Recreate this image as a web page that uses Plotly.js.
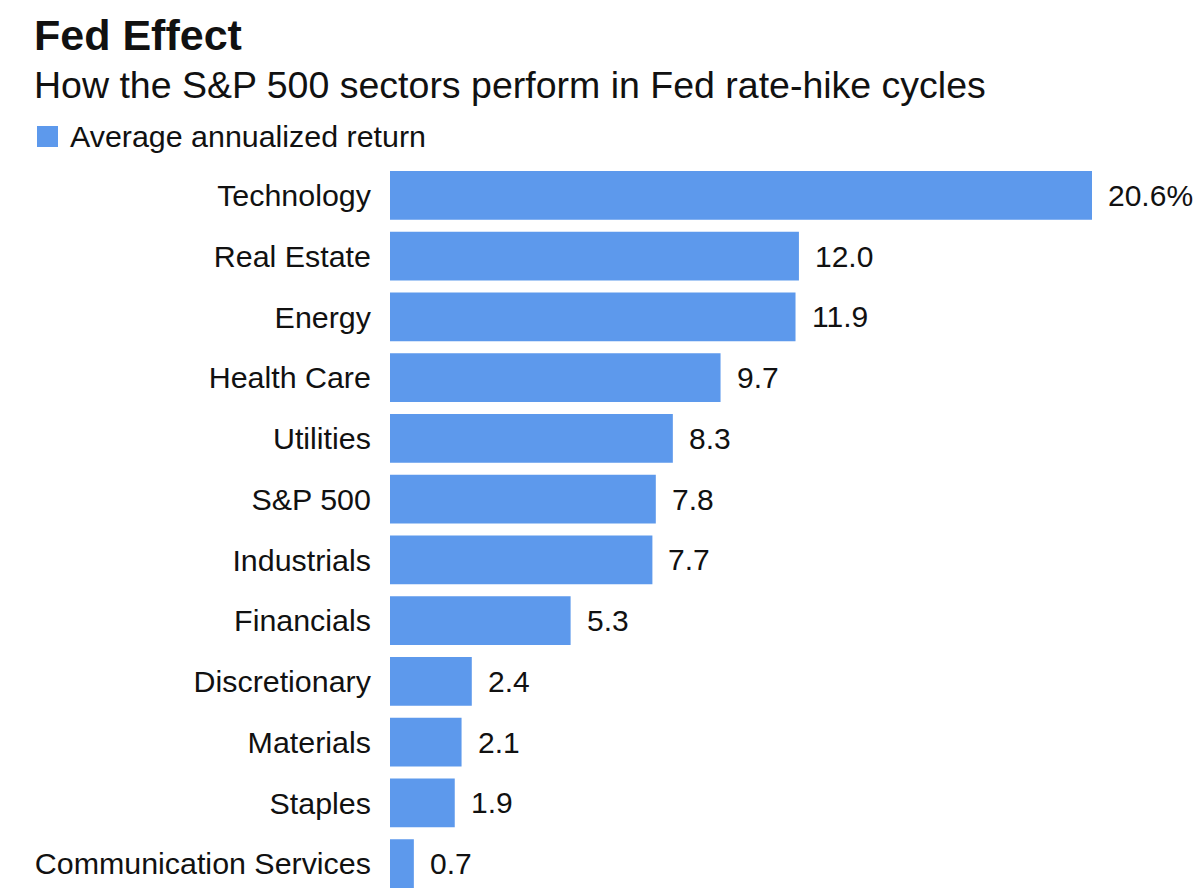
<!DOCTYPE html>
<html>
<head>
<meta charset="utf-8">
<script src="https://cdn.plot.ly/plotly-3.0.1.min.js"></script>
<style>
  html, body { margin: 0; padding: 0; background: #fff; }
  #chart { width: 1200px; height: 894px; }
</style>
</head>
<body>
<div id="chart"></div>
<script>
const categories = ["Technology", "Real Estate", "Energy", "Health Care", "Utilities", "S&P 500",
  "Industrials", "Financials", "Discretionary", "Materials", "Staples", "Communication Services"];
const returns = [20.6, 12.0, 11.9, 9.7, 8.3, 7.8, 7.7, 5.3, 2.4, 2.1, 1.9, 0.7];
const valueLabels = ["20.6%", "12.0", "11.9", "9.7", "8.3", "7.8", "7.7", "5.3", "2.4", "2.1", "1.9", "0.7"];
const seriesName = "Average annualized return";
const titleText = "Fed Effect";
const subtitleText = "How the S&P 500 sectors perform in Fed rate-hike cycles";

const barColor = "#5d99ec";
const textColor = "#111111";
const font = "Liberation Sans, Arial, sans-serif";

const PL = 390, PT = 165, W = 1200, H = 894;
const plotW = W - PL, plotH = H - PT;
const px2paperX = x => (x - PL) / plotW;
const px2paperY = y => (H - y) / plotH;

const trace = {
  type: "bar",
  orientation: "h",
  x: returns,
  y: categories,
  name: seriesName,
  marker: { color: barColor },
  hoverinfo: "y+x",
  showlegend: false
};

const valueAnnotations = returns.map((v, i) => ({
  x: v, y: categories[i], xref: "x", yref: "y",
  text: valueLabels[i], showarrow: false,
  xanchor: "left", yanchor: "middle", xshift: 14,
  font: { family: font, size: 30, color: textColor }
}));

const layout = {
  width: W, height: H,
  margin: { l: PL, r: 0, t: PT, b: 0, pad: 0 },
  paper_bgcolor: "#ffffff",
  plot_bgcolor: "#ffffff",
  bargap: 0.194,
  title: {
    text: "<b>" + titleText + "</b>",
    font: { family: font, size: 43, color: textColor },
    xref: "container", yref: "container",
    x: 34 / W, xanchor: "left",
    y: 1 - 20 / H, yanchor: "top"
  },
  xaxis: {
    range: [0, 20.6 * plotW / 702],
    showgrid: false, zeroline: false, showline: false,
    showticklabels: false, ticks: "", fixedrange: true
  },
  yaxis: {
    type: "category",
    autorange: "reversed",
    showgrid: false, zeroline: false, showline: false,
    ticks: "outside", ticklen: 12, tickcolor: "rgba(0,0,0,0)",
    tickfont: { family: font, size: 30.4, color: textColor },
    fixedrange: true
  },
  shapes: [{
    type: "rect", xref: "paper", yref: "paper",
    x0: px2paperX(37), x1: px2paperX(58),
    y0: px2paperY(147), y1: px2paperY(126),
    fillcolor: barColor, line: { width: 0 }
  }],
  annotations: [
    {
      xref: "paper", yref: "paper",
      x: px2paperX(32), y: px2paperY(85),
      xanchor: "left", yanchor: "middle",
      text: subtitleText, showarrow: false,
      font: { family: font, size: 37.5, color: textColor }
    },
    {
      xref: "paper", yref: "paper",
      x: px2paperX(68), y: px2paperY(136),
      xanchor: "left", yanchor: "middle",
      text: seriesName, showarrow: false,
      font: { family: font, size: 30.4, color: textColor }
    }
  ].concat(valueAnnotations)
};

Plotly.newPlot("chart", [trace], layout, { displayModeBar: false, staticPlot: false });
</script>
</body>
</html>
